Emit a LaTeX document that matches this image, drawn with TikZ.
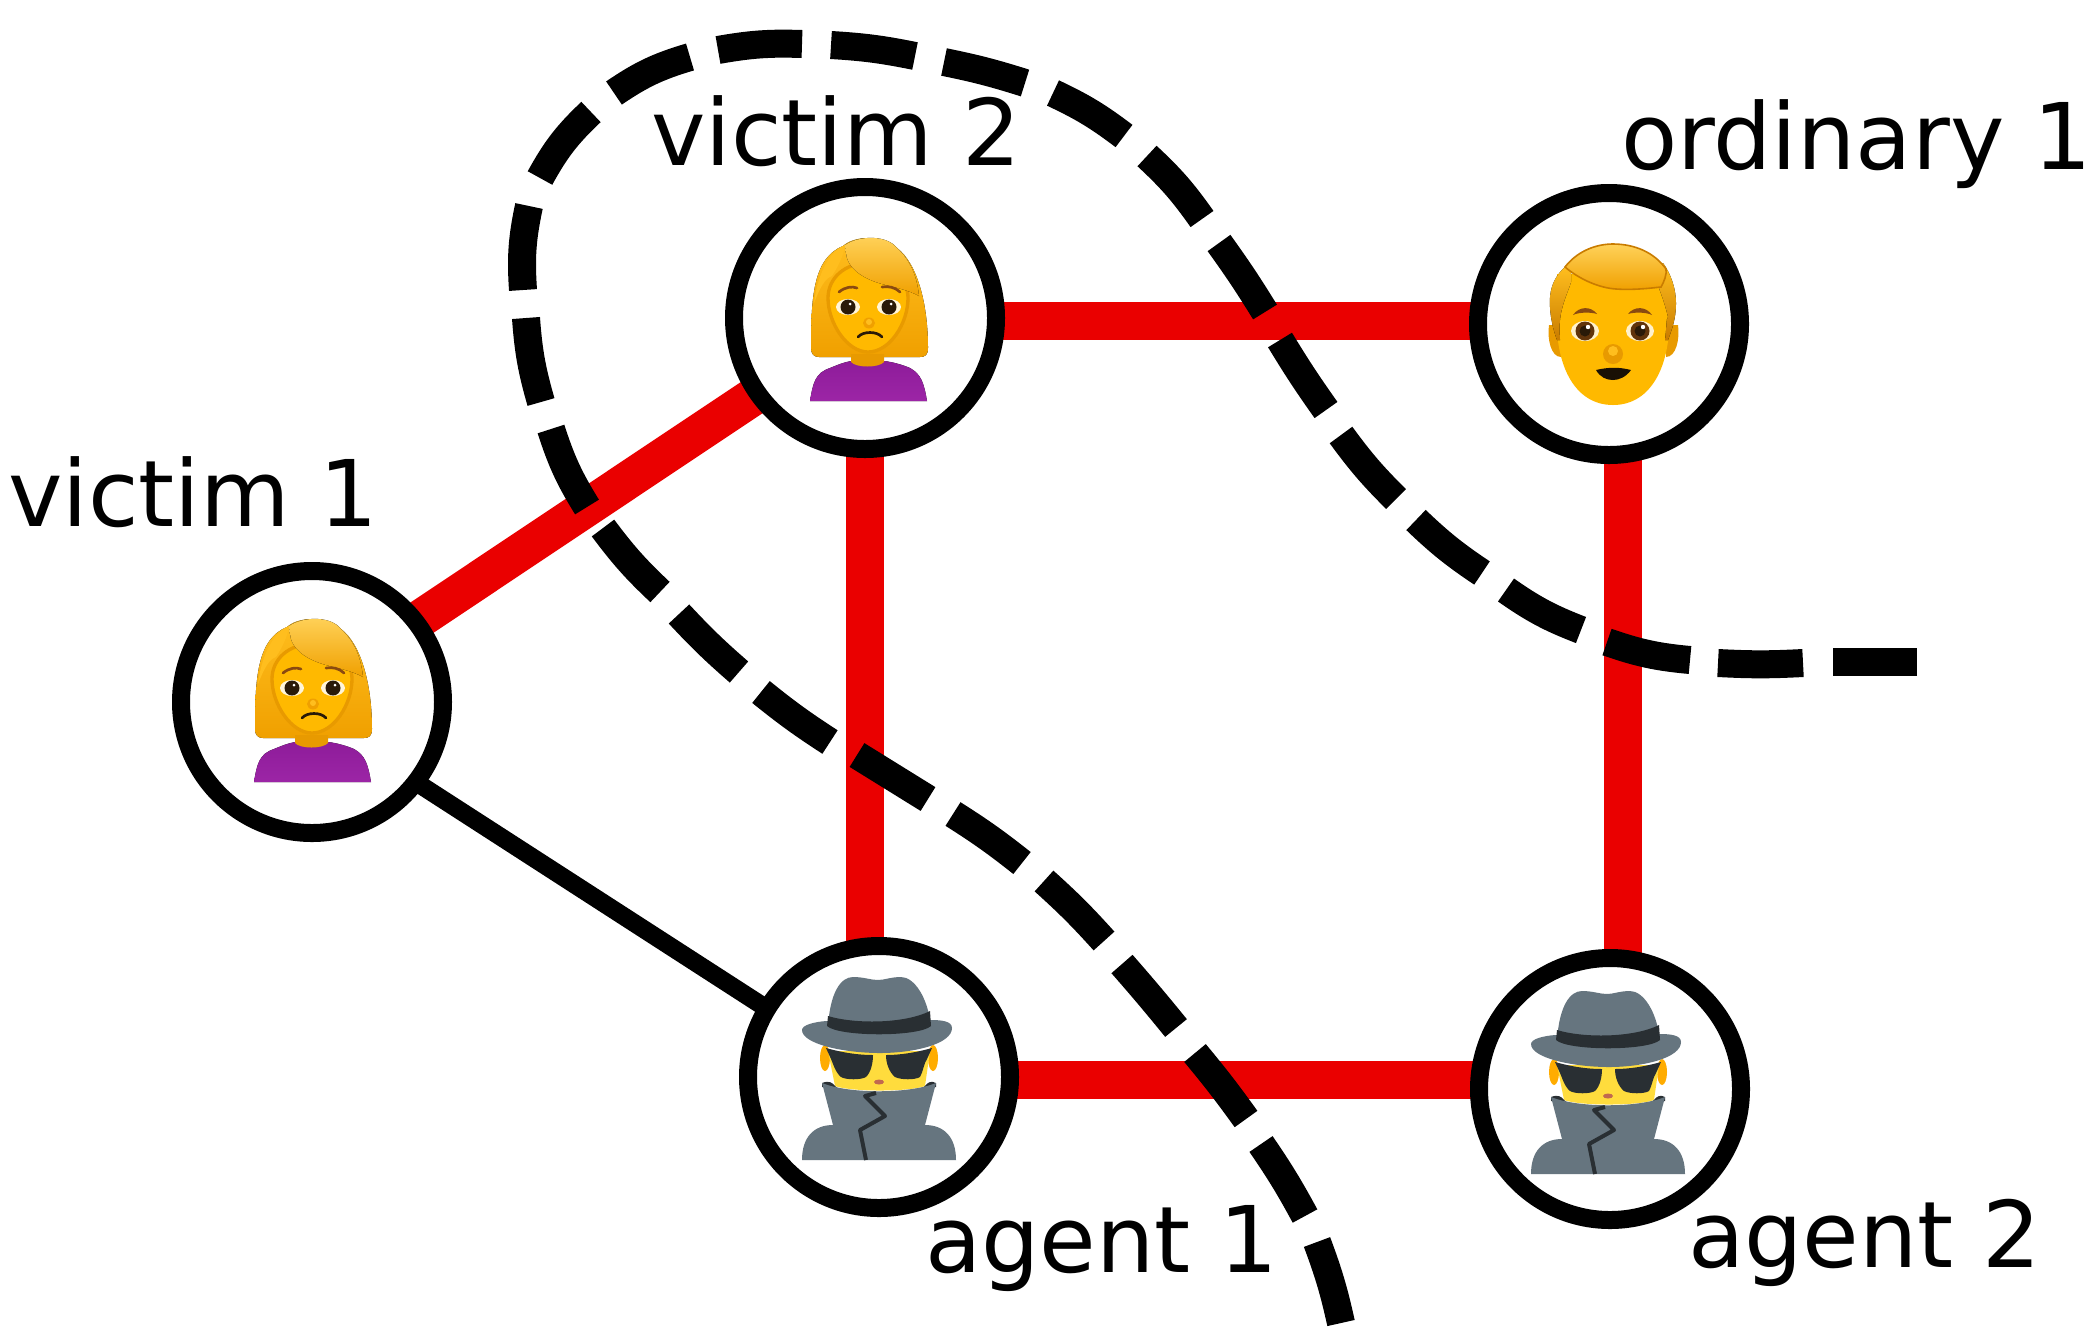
\documentclass[tikz,border=0pt]{standalone}
\usepackage{fontspec}
\setmainfont{DejaVu Sans}
\usetikzlibrary{calc}
\definecolor{edgered}{HTML}{EA0000}
\definecolor{hairlight}{HTML}{FFD25A}
\definecolor{hairtop}{HTML}{FFBE1E}
\definecolor{hairbot}{HTML}{F0A000}
\definecolor{hairshade}{HTML}{C97C00}
\definecolor{skin}{HTML}{FFB900}
\definecolor{skindark}{HTML}{E89A00}
\definecolor{shirt}{HTML}{8E1C9A}
\definecolor{shirtlight}{HTML}{9C25A6}
\definecolor{irisdark}{HTML}{2A1A08}
\definecolor{browndark}{HTML}{8A4A10}
\definecolor{hatgrey}{HTML}{66757F}
\definecolor{darkgrey}{HTML}{292F33}
\definecolor{agentskin}{HTML}{FFDC3D}
\definecolor{agentear}{HTML}{FFAC00}
\definecolor{agentmouth}{HTML}{C1694F}
\tikzset{
  x=0.75pt, y=0.75pt,
  person/.style={circle, draw=black, fill=white, line width=13.5pt, minimum size=196.5pt, inner sep=0pt, outer sep=0pt},
  redlink/.style={draw=edgered, line width=28.5pt},
  blacklink/.style={draw=black, line width=13.5pt},
  cutdash/.style={draw=black, line width=21pt, line cap=butt},
  namelabel/.style={anchor=base west, inner sep=0pt, outer sep=0pt, text=black, font=\fontsize{69}{69}\selectfont},
  womanpic/.pic={
    \fill[top color=hairtop,bottom color=hairbot] (-54,-30) .. controls (-54,20) and (-52,60) .. (-22,72) .. controls (-10,83) and (20,83) .. (32,70) .. controls (52,55) and (63,15) .. (63,-30) .. controls (63,-37) and (60,-39) .. (55,-39) -- (-46,-39) .. controls (-51,-39) and (-54,-36) .. (-54,-30) -- cycle;
    \fill[top color=shirt,bottom color=shirtlight] (-55,-83) .. controls (-52,-65) and (-50,-55) .. (-35,-50) .. controls (-28,-47) and (-20,-44) .. (-14,-43) -- (19,-43) .. controls (28,-44) and (38,-47) .. (45,-50) .. controls (56,-56) and (59,-65) .. (62,-83) -- cycle;
    \fill[skindark] (-14,-36) -- (19,-36) -- (19,-44) .. controls (14,-50) and (-9,-50) .. (-14,-44) -- cycle;
    \fill[skin, draw=skindark, line width=2.5pt] (-37,20) .. controls (-37,-5) and (-18,-34) .. (3,-34) .. controls (25,-34) and (43,-5) .. (43,20) .. controls (43,40) and (25,55) .. (3,55) .. controls (-20,55) and (-37,40) .. (-37,20) -- cycle;
    \fill[top color=hairlight,bottom color=hairbot] (-20,73) .. controls (-5,83) and (22,83) .. (32,70) .. controls (45,58) and (52,42) .. (54,22) .. controls (40,30) and (20,32) .. (8,37) .. controls (-5,42) and (-15,50) .. (-18,60) .. controls (-19,65) and (-20,70) .. (-20,73) -- cycle;
    \fill[hairtop] (-20,73) .. controls (-38,65) and (-48,40) .. (-51,15) .. controls (-45,30) and (-40,40) .. (-33,42) .. controls (-28,50) and (-22,60) .. (-20,73) -- cycle;
    \fill[white!85!skin] (-17,11) ellipse [x radius=12, y radius=8];
    \fill[white!85!skin] (24,11) ellipse [x radius=12, y radius=8];
    \fill[irisdark] (-17,11) circle [radius=7.5];
    \fill[irisdark] (24,11) circle [radius=7.5];
    \fill[white] (-15,14) circle [radius=1.5];
    \fill[white] (26,14) circle [radius=1.5];
    \draw[browndark, line width=2pt, line cap=round] (-26,26) .. controls (-20,31) and (-13,32) .. (-8,30);
    \draw[browndark, line width=2pt, line cap=round] (17,31) .. controls (23,32) and (30,31) .. (35,26);
    \fill[hairbot] (4,-5) ellipse [x radius=6, y radius=5.5];
    \fill[hairtop] (4,-4) circle [radius=3];
    \draw[irisdark, line width=2pt, line cap=round] (-7,-19) .. controls (-2,-13) and (12,-13) .. (17,-19);
  },
  manpic/.pic={
    \fill[skindark] (-60,-1) .. controls (-62,-15) and (-58,-33) .. (-48,-33) -- (-48,-1) -- cycle;
    \fill[skindark] (69,-1) .. controls (71,-15) and (67,-33) .. (57,-33) -- (57,-1) -- cycle;
    \fill[skin] (-52,20) .. controls (-56,-40) and (-35,-81) .. (4,-81) .. controls (43,-81) and (64,-40) .. (60,20) -- (60,50) -- (-52,50) -- cycle;
    \fill[top color=hairtop,bottom color=hairshade] (-59,27) .. controls (-60,10) and (-56,-5) .. (-52,-16) -- (-49,-16) .. controls (-50,0) and (-49,5) .. (-48,11) .. controls (-45,25) and (-40,35) .. (-38,42) -- (-38,55) -- (-44,57) .. controls (-52,50) and (-58,40) .. (-59,27) -- cycle;
    \fill[top color=hairtop,bottom color=hairshade] (67,21) .. controls (67,5) and (63,-5) .. (59,-16) -- (56,-16) .. controls (58,0) and (57,5) .. (59,7) .. controls (56,20) and (52,30) .. (50,36) -- (48,55) -- (54,61) .. controls (62,50) and (67,35) .. (67,21) -- cycle;
    \fill[top color=hairlight,bottom color=hairbot, draw=hairshade, line width=1.2pt] (-44,57) .. controls (-30,75) and (-10,80) .. (4,80) .. controls (25,80) and (45,72) .. (57,55) .. controls (58,50) and (55,42) .. (52,37) .. controls (35,35) and (20,34) .. (7,35) .. controls (-10,36) and (-30,45) .. (-44,57) -- cycle;
    \fill[white!80!skin] (-24,-7) ellipse [x radius=14, y radius=10];
    \fill[white!80!skin] (31,-7) ellipse [x radius=14, y radius=10];
    \fill[browndark!70!black] (-24,-7) circle [radius=9.5];
    \fill[browndark!70!black] (31,-7) circle [radius=9.5];
    \fill[irisdark] (-24,-7) circle [radius=5.5];
    \fill[irisdark] (31,-7) circle [radius=5.5];
    \fill[white] (-21,-3) circle [radius=2.2];
    \fill[white] (34,-3) circle [radius=2.2];
    \fill[browndark] (-36,9) .. controls (-30,18) and (-18,18) .. (-12,10) .. controls (-18,12) and (-30,12) .. (-36,9) -- cycle;
    \fill[browndark] (19,10) .. controls (25,18) and (37,18) .. (43,9) .. controls (37,12) and (25,12) .. (19,10) -- cycle;
    \fill[skindark] (4,-30) ellipse [x radius=10, y radius=10];
    \fill[hairtop] (4,-27) circle [radius=5];
    \fill[irisdark!60!black] (-13,-46) .. controls (0,-43) and (10,-43) .. (22,-46) .. controls (17,-53) and (10,-56) .. (4,-56) .. controls (-3,-56) and (-9,-53) .. (-13,-46) -- cycle;
  },
  agentpic/.pic={
    \fill[agentear] (-54,19) ellipse [x radius=5, y radius=13];
    \fill[agentear] (54,19) ellipse [x radius=5, y radius=13];
    \fill[agentskin] (-51,26) -- (51,26) -- (46,-9) .. controls (30,-15) and (-28,-15) .. (-44,-9) -- cycle;
    \fill[hatgrey] (-51,50) .. controls (-49,85) and (-38,100) .. (-26,100) .. controls (-15,100) and (-8,97) .. (-1,97) .. controls (5,97) and (12,100) .. (22,100) .. controls (35,100) and (49,80) .. (52,50) -- cycle;
    \fill[hatgrey] (-53,56) .. controls (-65,55) and (-77,52) .. (-77,47) .. controls (-77,33) and (-35,24) .. (1,24) .. controls (35,24) and (73,33) .. (73,49) .. controls (73,56) and (62,57) .. (52,57) -- cycle;
    \fill[darkgrey] (-51,61) .. controls (-25,53) and (25,53) .. (51,66) -- (52,51) .. controls (40,40) and (-40,40) .. (-52,51) -- cycle;
    \fill[darkgrey] (-53,29) .. controls (-35,24) and (-20,22) .. (-6,22) .. controls (-6,14) and (-8,5) .. (-13,0) .. controls (-18,-3) and (-33,-3) .. (-38,0) .. controls (-44,5) and (-46,14) .. (-48,18) -- cycle;
    \fill[darkgrey] (53,29) .. controls (35,24) and (20,22) .. (7,22) .. controls (7,14) and (10,5) .. (16,0) .. controls (22,-3) and (36,-3) .. (41,0) .. controls (44,5) and (45,14) .. (48,18) -- cycle;
    \fill[agentmouth] (0,-5) ellipse [x radius=5, y radius=2.5];
    \fill[darkgrey] (-57,-6) .. controls (-50,-3) and (-46,-6) .. (-44,-9) -- (-40,-12) -- (-57,-10) -- cycle;
    \fill[darkgrey] (57,-6) .. controls (52,-3) and (48,-6) .. (46,-9) -- (42,-12) -- (57,-10) -- cycle;
    \fill[hatgrey] (-57,-6) .. controls (-30,-17) and (30,-17) .. (57,-6) -- (46,-48) .. controls (65,-48) and (77,-60) .. (77,-83) -- (-77,-83) .. controls (-77,-60) and (-65,-48) .. (-46,-48) -- cycle;
    \draw[darkgrey, line width=3pt, line join=round] (-3,-16) -- (-14,-19) -- (6,-39) -- (-19,-53) -- (-13,-83);
  }
}
\begin{document}
\begin{tikzpicture}
\path[fill=white, use as bounding box] (0,0) rectangle (2094,-1340);

\coordinate (v1pos) at (312,-702);
\coordinate (v2pos) at (865,-318);
\coordinate (o1pos) at (1609,-324);
\coordinate (a1pos) at (879,-1077);
\coordinate (a2pos) at (1610,-1089);

% edges lie behind the circles
\draw[redlink] ($(v1pos)+(0,11)$) -- ($(v2pos)+(0,-4)$);
\draw[redlink] ($(v2pos)+(0,-2.5)$) -- ($(o1pos)+(0,3.5)$);
\draw[redlink] (v2pos) -- ($(a1pos)+(-14,0)$);
\draw[redlink] ($(o1pos)+(14,0)$) -- ($(a2pos)+(13,0)$);
\draw[redlink] ($(a1pos)+(0,-2.5)$) -- ($(a2pos)+(0,9.5)$);
\draw[blacklink] ($(v1pos)+(0,-13)$) -- ($(a1pos)+(0,-4)$);

\node[person] (v1) at (v1pos) {};
\node[person] (v2) at (v2pos) {};
\node[person] (o1) at (o1pos) {};
\node[person] (a1) at (a1pos) {};
\node[person] (a2) at (a2pos) {};

\pic at ($(v1.center)+(-3,3)$) {womanpic};
\pic at (v2.center) {womanpic};
\pic at (o1.center) {manpic};
\pic at (a1.center) {agentpic};
\pic at ($(a2.center)+(-2,-2)$) {agentpic};

% the cut: one dashed curve
\foreach \xa/\ya/\xb/\yb/\bnd in {
  1917/662/1833/662/0, 1803/663/1718/663/3, 1690/660/1607/642/7, 1581/630/1506/590/7,
  1482/573/1416/520/5, 1396/499/1341/435/4.5, 1326/410/1280/340/2, 1265/312/1219/243/-2,
  1202/219/1147/156/-6, 1124/136/1053/93/-6, 1025/83/944/62/-3, 915/56/831/45/-4,
  802/44/718/50/-6, 690/57/614/93/-9, 591/112/540/178/-9, 529/206/523/290/-8,
  526/318/541/402/-6, 551/429/587/507/-7, 603/528/660/592/-5, 679/614/739/672/-3,
  761/692/830/742/-3, 857/755/928/799/0, 953/814/1022/863/3, 1044/881/1104/941/3,
  1122/964/1176/1028/1, 1195/1053/1246/1119/2, 1261/1144/1305/1216/3, 1317/1242/1341/1323/4}
{\draw[cutdash] (\xa,-\ya) to[bend left=\bnd] (\xb,-\yb);}

\node[namelabel] (lv2) at (651,-165) {victim 2};
\node[namelabel] (lo1) at (1621,-169) {ordinary 1};
\node[namelabel] (lv1) at (8,-526) {victim 1};
\node[namelabel] (la1) at (925,-1272) {agent 1};
\node[namelabel] (la2) at (1688,-1267) {agent 2};
\end{tikzpicture}
\end{document}
